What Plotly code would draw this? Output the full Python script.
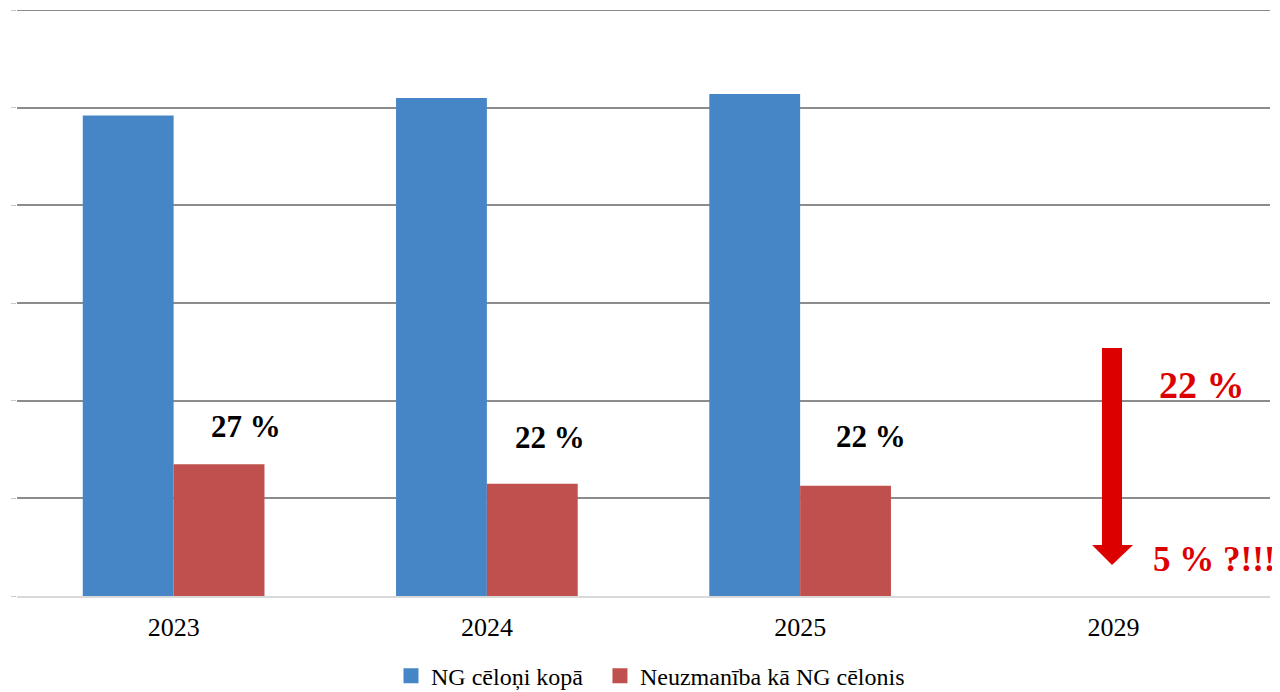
import plotly.graph_objects as go

categories = ["2023", "2024", "2025", "2029"]
total_causes = [4.92, 5.10, 5.14, None]
inattention = [1.35, 1.15, 1.13, None]
share_labels = ["27 %", "22 %", "22 %"]
share_label_y = [1.74, 1.62, 1.63]
share_label_shift = [72, 63, 71]
forecast_from = "22 %"
forecast_to = "5 % ?!!!"
forecast_from_y, forecast_to_y = 2.16, 0.37
arrow_top, arrow_shaft_end, arrow_tip = 2.54, 0.522, 0.317
series_names = ["NG cēloņi kopā", "Neuzmanība kā NG cēlonis"]
y_max = 6

BLUE = "#4686C6"
RED = "#C0504D"
ARROW = "#DD0000"
GRID = "#8C8C8C"
SERIF = "Liberation Serif, Times New Roman, serif"

fig = go.Figure()
fig.add_trace(go.Bar(x=categories, y=total_causes, name=series_names[0], showlegend=False,
                     marker=dict(color=BLUE, line=dict(width=0))))
fig.add_trace(go.Bar(x=categories, y=inattention, name=series_names[1], showlegend=False,
                     marker=dict(color=RED, line=dict(width=0))))
# legend proxies with square swatches (non-breaking spaces widen the gap between entries)
legend_pad = ["\u00a0\u00a0", ""]
for nm, col, pad in zip(series_names, [BLUE, RED], legend_pad):
    fig.add_trace(go.Scatter(x=[None], y=[None], mode="markers", name=nm + pad,
                             marker=dict(symbol="square", size=15, color=col)))

for i, (lab, yv, sh) in enumerate(zip(share_labels, share_label_y, share_label_shift)):
    fig.add_annotation(x=i, y=yv, text=lab, showarrow=False, xshift=sh,
                       font=dict(family=SERIF, size=31, color="black", weight="bold"))

fig.add_annotation(x=3, y=forecast_from_y, text=forecast_from, showarrow=False, xshift=89,
                   font=dict(family=SERIF, size=38, color=ARROW, weight="bold"))
fig.add_annotation(x=3, y=forecast_to_y, text=forecast_to, showarrow=False, xshift=101,
                   font=dict(family=SERIF, size=35, color=ARROW, weight="bold"))

# down arrow (paper x == plot-area fraction since the x domain is [0, 1])
x0, x1, h0, h1, xc = 0.8659, 0.8819, 0.858, 0.8907, 0.8739
path = (f"M {x0},{arrow_top} L {x1},{arrow_top} L {x1},{arrow_shaft_end} "
        f"L {h1},{arrow_shaft_end} L {xc},{arrow_tip} L {h0},{arrow_shaft_end} "
        f"L {x0},{arrow_shaft_end} Z")
fig.add_shape(type="path", path=path, xref="paper", yref="y",
              fillcolor=ARROW, line=dict(width=0))
# top gridline at the edge of the range
fig.add_shape(type="line", xref="paper", yref="y", x0=0, x1=1, y0=y_max, y1=y_max,
              line=dict(color=GRID, width=2), layer="below")

# page body has an 8px default margin: size the figure to fit the 1280x692 window
fig.update_layout(
    width=1272, height=684,
    margin=dict(l=9, r=10, t=2, b=96, autoexpand=False),
    plot_bgcolor="white", paper_bgcolor="white",
    barmode="group", bargap=0.42, bargroupgap=0,
    showlegend=True,
    legend=dict(orientation="h", x=0.3011, xanchor="left", xref="container",
                y=0.023, yanchor="middle", yref="container",
                font=dict(family=SERIF, size=24, color="black"),
                itemwidth=30, bgcolor="rgba(0,0,0,0)"),
    xaxis=dict(type="category", categoryorder="array", categoryarray=categories,
               range=[-0.5, 3.5], automargin=False,
               tickfont=dict(family=SERIF, size=26, color="black"),
               showgrid=False, showline=True, linecolor="#D9D9D9", linewidth=2,
               ticks="", ticklabelstandoff=7),
    yaxis=dict(range=[0, y_max], tickvals=[0, 1, 2, 3, 4, 5, 6], showgrid=True,
               gridcolor=GRID, gridwidth=2, automargin=False,
               showticklabels=False, ticks="outside", ticklen=5, tickcolor="#C8C8C8",
               zeroline=False, showline=False, fixedrange=True),
)

fig.write_html("out.html")
